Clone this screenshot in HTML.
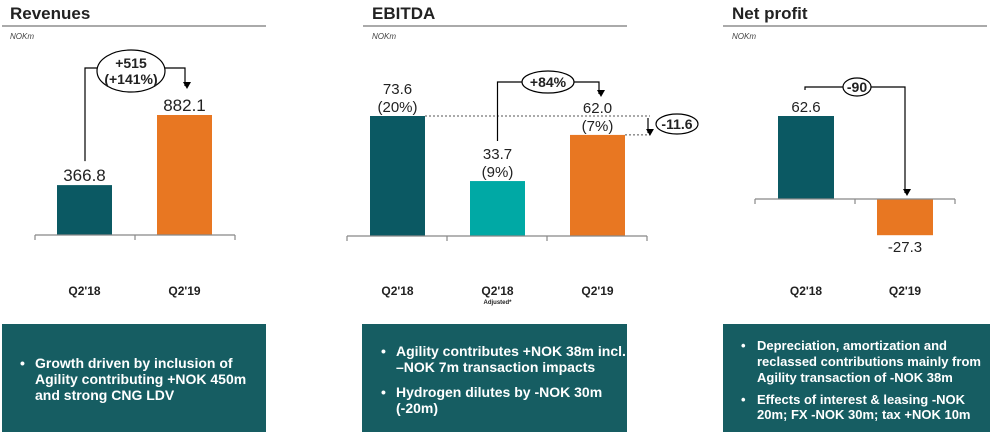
<!DOCTYPE html>
<html><head><meta charset="utf-8">
<style>
html,body{margin:0;padding:0;background:#fff;}
svg{display:block;font-family:"Liberation Sans",Arial,sans-serif;}
.box text{fill:#fff;font-weight:bold;}
</style></head>
<body>
<svg id="chart" width="1000" height="439" viewBox="0 0 1000 439" xmlns="http://www.w3.org/2000/svg">
<defs>
<marker id="arr" markerWidth="8" markerHeight="8" refX="4" refY="6" orient="auto" markerUnits="userSpaceOnUse">
<path d="M0,0 L8,0 L4,7 Z" fill="#000" transform="rotate(-90 4 4)"/>
</marker>
</defs>
<g id="panels"></g>
<!-- bottom boxes -->
<g class="box">
<rect x="2" y="324" width="264" height="108" fill="#165d62"/>
<text x="20" y="368" font-size="14">•</text>
<text x="35" y="368" font-size="14">Growth driven by inclusion of</text>
<text x="35" y="384" font-size="14">Agility contributing +NOK 450m</text>
<text x="35" y="400" font-size="14">and strong CNG LDV</text>
</g>
<g class="box">
<rect x="362" y="324" width="265" height="108" fill="#165d62"/>
<text x="381" y="356" font-size="14">•</text>
<text x="396" y="356" font-size="14">Agility contributes +NOK 38m incl.</text>
<text x="396" y="372" font-size="14">–NOK 7m transaction impacts</text>
<text x="381" y="397" font-size="14">•</text>
<text x="396" y="397" font-size="14">Hydrogen dilutes by -NOK 30m</text>
<text x="396" y="413" font-size="14">(-20m)</text>
</g>
<g class="box">
<rect x="723" y="324" width="267" height="108" fill="#165d62"/>
<text x="741" y="350" font-size="13">•</text>
<text x="757" y="350" font-size="13">Depreciation, amortization and</text>
<text x="757" y="366" font-size="13">reclassed contributions mainly from</text>
<text x="757" y="382" font-size="13">Agility transaction of -NOK 38m</text>
<text x="741" y="404" font-size="13">•</text>
<text x="757" y="404" font-size="13">Effects of interest &amp; leasing -NOK</text>
<text x="757" y="419" font-size="13">20m; FX -NOK 30m; tax +NOK 10m</text>
</g>
</svg>
<script>
// Data
const revCategories = ["Q2'18", "Q2'19"];
const revValues = [366.8, 882.1];
const revLabels = ["366.8", "882.1"];
const ebitdaCategories = ["Q2'18", "Q2'18", "Q2'19"];
const ebitdaValues = [73.6, 33.7, 62.0];
const ebitdaLabels = ["73.6", "33.7", "62.0"];
const ebitdaMargins = ["(20%)", "(9%)", "(7%)"];
const npCategories = ["Q2'18", "Q2'19"];
const npValues = [62.6, -27.3];
const npLabels = ["62.6", "-27.3"];

const NS = "http://www.w3.org/2000/svg";
const root = document.getElementById('panels');
function mk(tag, attrs, parent) {
  const e = document.createElementNS(NS, tag);
  for (const k in attrs) e.setAttribute(k, attrs[k]);
  (parent || root).appendChild(e);
  return e;
}
function txt(x, y, s, size, bold, anchor, name, parent) {
  const t = mk('text', {x: x, y: y, 'font-size': size, 'text-anchor': anchor || 'middle', fill: '#222', 'font-weight': bold ? 'bold' : 'normal'}, parent);
  t.textContent = s;
  
  
  return t;
}
function header(x0, x1, tx, title, prefix) {
  txt(tx, 19, title, 17, true, 'start', prefix + '-title');
  const l = mk('line', {x1: x0, x2: x1, y1: 26, y2: 26, stroke: '#555', 'stroke-width': 1});
  
  
  const u = txt(tx, 39, 'NOKm', 8, false, 'start', prefix + '-unit-label');
  u.setAttribute('font-style', 'italic');
  u.setAttribute('fill', '#444');
}
function axis(x0, n, y, prefix) {
  const g = mk('g', {});
  
  
  mk('line', {x1: x0, x2: x0 + 100 * n, y1: y, y2: y, stroke: '#888', 'stroke-width': 1.2}, g);
  for (let i = 0; i <= n; i++) mk('line', {x1: x0 + 100 * i, x2: x0 + 100 * i, y1: y, y2: y + 5, stroke: '#888', 'stroke-width': 1.2}, g);
}
function bubble(cx, cy, rx, ry, label, name) {
  const g = mk('g', {});
  
  
  mk('ellipse', {cx: cx, cy: cy, rx: rx, ry: ry, fill: '#fff', stroke: '#000', 'stroke-width': 1.2}, g);
  const lines = label.split('\n');
  lines.forEach((s, i) => txt(cx, cy + 5 - (lines.length - 1) * 8 + i * 16, s, 14, true, 'middle', name + '-text', g));
}
function path(d, arrow, name) {
  const p = mk('path', {d: d, fill: 'none', stroke: '#000', 'stroke-width': 1.2});
  if (arrow) p.setAttribute('marker-end', 'url(#arr)');
  
  
}
const colors3 = ['#0b5963', '#00a9a5', '#e87722'];

// Revenues
header(2, 266, 10, 'Revenues', 'revenues');
const revBase = 235, revScale = 120 / 882.1;
const revY = v => revBase - v * revScale;
const revX = i => 57 + 100 * i;
const revCols = ['#0b5963', '#e87722'];
revValues.forEach((v, i) => {
  const r = mk('rect', {x: revX(i), y: revY(v), width: 55, height: revBase - revY(v), fill: revCols[i]});
  
  
  txt(revX(i) + 27.5, revY(v) - 4, revLabels[i], 17, false, 'middle', 'revenues-value-label');
  txt(revX(i) + 27.5, 295, revCategories[i], 12, true, 'middle', 'revenues-category-label');
});
axis(35, 2, revBase, 'revenues');
path(`M${revX(0)+28},${revY(revValues[0]) - 24} V68 H100`, false, 'revenues-change-line-left');
path(`M163,68 H${revX(1)+28} V86`, true, 'revenues-change-arrow');
bubble(131, 71, 34, 21, '+515\n(+141%)', 'revenues-change-bubble');

// EBITDA
header(363, 627, 372, 'EBITDA', 'ebitda');
const ebBase = 236, ebScale = 120 / 73.6;
const ebY = v => ebBase - v * ebScale;
const ebX = i => 370 + 100 * i;
ebitdaValues.forEach((v, i) => {
  const r = mk('rect', {x: ebX(i), y: ebY(v), width: 55, height: ebBase - ebY(v), fill: colors3[i]});
  
  
  txt(ebX(i) + 27.5, ebY(v) - 22, ebitdaLabels[i], 15, false, 'middle', 'ebitda-value-label');
  txt(ebX(i) + 27.5, ebY(v) - 4, ebitdaMargins[i], 15, false, 'middle', 'ebitda-margin-label');
  txt(ebX(i) + 27.5, 295, ebitdaCategories[i], 12, true, 'middle', 'ebitda-category-label');
});
txt(ebX(1) + 27.5, 304, 'Adjusted*', 6, true, 'middle', 'ebitda-adjusted-note');
axis(347, 3, ebBase, 'ebitda');
const d1 = mk('line', {x1: ebX(0) + 55, x2: 650, y1: ebY(ebitdaValues[0]), y2: ebY(ebitdaValues[0]), stroke: '#555', 'stroke-dasharray': '2,2'});


const d2 = mk('line', {x1: ebX(2) + 55, x2: 650, y1: ebY(ebitdaValues[2]), y2: ebY(ebitdaValues[2]), stroke: '#555', 'stroke-dasharray': '2,2'});


path(`M648,${ebY(ebitdaValues[0]) + 2} V${ebY(ebitdaValues[2]) - 2}`, true, 'ebitda-decline-arrow');
bubble(677, 124, 21, 10, '-11.6', 'ebitda-decline-bubble');
path(`M${ebX(1)+27.5},${ebY(ebitdaValues[1]) - 40} V82 H522`, false, 'ebitda-change-line-left');
path(`M574,82 H${ebX(2)+29} V94`, true, 'ebitda-change-arrow');
bubble(548, 82, 26, 11, '+84%', 'ebitda-change-bubble');

// Net profit
header(723, 987, 732, 'Net profit', 'net-profit');
const npBase = 199, npScale = 83 / 62.6;
const npY = v => npBase - v * npScale;
const npX = i => 778 + 99 * i;
npValues.forEach((v, i) => {
  const y = Math.min(npY(v), npBase), h = Math.abs(v * npScale);
  const r = mk('rect', {x: npX(i), y: y, width: 56, height: h, fill: revCols[i]});
  
  
  const ly = v >= 0 ? npY(v) - 4 : npY(v) + 17;
  txt(npX(i) + 28, ly, npLabels[i], 15, false, 'middle', 'net-profit-value-label');
  txt(npX(i) + 28, 295, npCategories[i], 12, true, 'middle', 'net-profit-category-label');
});
axis(755, 2, npBase, 'net-profit');
path(`M${npX(0)+27},${npY(npValues[0]) - 26} V87 H843`, false, 'net-profit-change-line-left');
path(`M871,87 H${npX(1)+28} V193`, true, 'net-profit-change-arrow');
bubble(857, 87, 14, 9, '-90', 'net-profit-change-bubble');
</script>
</body></html>
